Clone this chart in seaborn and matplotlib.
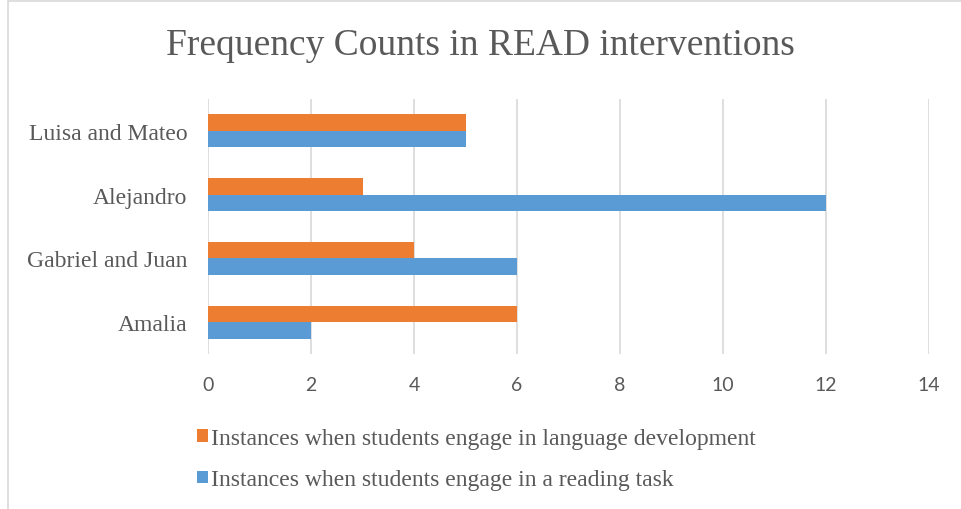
import pandas as pd
import matplotlib.pyplot as plt
import seaborn as sns
from matplotlib.patches import Rectangle

# data
students = ["Luisa and Mateo", "Alejandro", "Gabriel and Juan", "Amalia"]
language_dev = [5, 3, 4, 6]
reading_task = [5, 12, 6, 2]
series_names = ["Instances when students engage in language development",
                "Instances when students engage in a reading task"]
xticks = [0, 2, 4, 6, 8, 10, 12, 14]

df = pd.DataFrame({
    "student": students * 2,
    "count": language_dev + reading_task,
    "series": [series_names[0]] * 4 + [series_names[1]] * 4,
})

sns.set_style("white")
grey = "#595959"

fig = plt.figure(figsize=(9.61, 5.10), dpi=100)
ax = fig.add_axes([208 / 961, 1 - 355 / 510, 721 / 961, 255 / 510])

sns.barplot(data=df, x="count", y="student", hue="series", order=students,
            hue_order=series_names, palette=["#ED7D31", "#5B9BD5"],
            orient="h", width=0.52, saturation=1, linewidth=0, ax=ax, legend=True)

ax.set_xlim(0, 14)
ax.set_xticks(xticks)
ax.grid(axis="x", color="#d9d9d9", linewidth=1.2)
ax.set_axisbelow(True)
for s in ax.spines.values():
    s.set_visible(False)
ax.set_xlabel("")
ax.set_ylabel("")
ax.tick_params(axis="both", length=0)
ax.tick_params(axis="x", pad=16, labelsize=14, labelcolor=grey)
ax.tick_params(axis="y", pad=15, labelsize=17, labelcolor=grey)
for t in ax.get_xticklabels():
    t.set_fontfamily("Lato")
for t in ax.get_yticklabels():
    t.set_fontfamily("Liberation Serif")

handles, labels = ax.get_legend_handles_labels()
ax.get_legend().remove()
fig.legend(handles, labels, loc="upper left", bbox_to_anchor=(176 / 961, 1 - 408 / 510),
           frameon=False, ncol=1, handlelength=0.45, handleheight=0.45,
           handletextpad=0.15, labelspacing=0.85,
           prop={"family": "Liberation Serif", "size": 17}, labelcolor=grey)

fig.text(0.5, 1 - 46 / 510, "Frequency Counts in READ interventions",
         ha="center", va="center", fontsize=27, color=grey, family="Liberation Serif")

# chart area border (only left and top visible in the crop)
fig.patches.append(Rectangle((8 / 961, -0.1), 1.2, 1 - 2 / 510 + 0.1,
                             transform=fig.transFigure, fill=False,
                             edgecolor="#d9d9d9", linewidth=1.2))

fig.savefig("out.png", dpi=100)
